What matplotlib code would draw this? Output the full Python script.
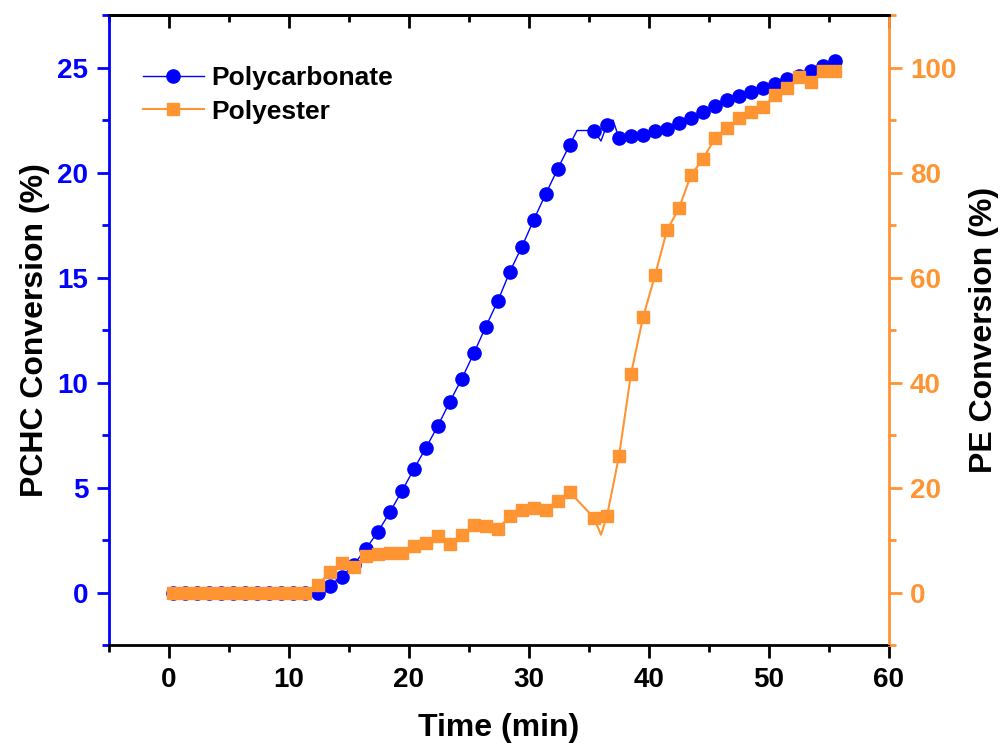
import numpy as np
import matplotlib.pyplot as plt
from matplotlib.ticker import MultipleLocator

# Time points that carry a marker (min)
time = [0.3, 1.3, 2.3, 3.3, 4.3, 5.3, 6.3, 7.3, 8.3, 9.3, 10.3, 11.3,
        12.4, 13.4, 14.4, 15.4, 16.4, 17.4, 18.4, 19.4, 20.4, 21.4, 22.4,
        23.4, 24.4, 25.4, 26.4, 27.4, 28.4, 29.4, 30.4, 31.4, 32.4, 33.4,
        35.4, 36.5, 37.5, 38.5, 39.5, 40.5, 41.5, 42.5, 43.5, 44.5, 45.5,
        46.5, 47.5, 48.5, 49.5, 50.5, 51.5, 52.5, 53.5, 54.5, 55.5]

# PCHC conversion (%) - polycarbonate
pchc = [0, 0, 0, 0, 0, 0, 0, 0, 0, 0, 0, 0,
        0.0, 0.33, 0.76, 1.32, 2.08, 2.88, 3.82, 4.82, 5.87, 6.88, 7.93,
        9.08, 10.18, 11.39, 12.66, 13.88, 15.27, 16.46, 17.75, 18.99, 20.18, 21.33,
        22.0, 22.28, 21.64, 21.76, 21.8, 21.96, 22.09, 22.36, 22.6, 22.9, 23.15,
        23.44, 23.63, 23.84, 24.03, 24.22, 24.43, 24.58, 24.82, 25.06, 25.3]

# PE conversion (%) - polyester
pe = [0, 0, 0, 0, 0, 0, 0, 0, 0, 0, 0, 0,
      1.34, 3.9, 5.66, 4.83, 6.93, 7.25, 7.5, 7.5, 8.78, 9.41, 10.75,
      9.29, 10.88, 12.79, 12.6, 12.15, 14.5, 15.78, 16.1, 15.65, 17.37, 19.14,
      14.25, 14.57, 26.0, 41.6, 52.4, 60.4, 69.0, 73.2, 79.5, 82.6, 86.5,
      88.4, 90.3, 91.6, 92.5, 94.7, 96.1, 98.2, 97.3, 99.4, 99.4]

# extra points on the lines that have no marker
pchc_extra_t = [34.0, 36.0, 37.0]
pchc_extra_v = [22.0, 21.5, 22.5]
pe_extra_t = [36.0]
pe_extra_v = [11.0]

blue = '#0000FF'
orange = '#FF9433'


def merged(t, v, t_extra, v_extra):
    t_all = np.concatenate([t, t_extra])
    v_all = np.concatenate([v, v_extra])
    order = np.argsort(t_all, kind='stable')
    marks = list(np.where(order < len(t))[0])
    return t_all[order], v_all[order], marks


plt.rcParams['font.family'] = 'Liberation Sans'
plt.rcParams['font.weight'] = 'bold'

fig = plt.figure(figsize=(10, 7.47), dpi=100)
ax = fig.add_axes([0.109, 0.1365, 0.78, 0.8434])
ax2 = ax.twinx()

t1, v1, m1 = merged(time, pchc, pchc_extra_t, pchc_extra_v)
t2, v2, m2 = merged(time, pe, pe_extra_t, pe_extra_v)

l1, = ax.plot(t1, v1, color=blue, lw=1.0, marker='o', ms=9.5,
              markevery=m1, mec=blue, label='Polycarbonate')
l2, = ax2.plot(t2, v2, color=orange, lw=1.5, marker='s', ms=8.5,
               markevery=m2, mec=orange, label='Polyester')

ax.set_xlim(-5, 60)
ax.set_ylim(-2.5, 27.5)
ax2.set_ylim(-10, 110)

ax.xaxis.set_major_locator(MultipleLocator(10))
ax.xaxis.set_minor_locator(MultipleLocator(5))
ax.yaxis.set_major_locator(MultipleLocator(5))
ax.yaxis.set_minor_locator(MultipleLocator(2.5))
ax2.yaxis.set_major_locator(MultipleLocator(20))
ax2.yaxis.set_minor_locator(MultipleLocator(10))

# spines
ax.spines['right'].set_visible(False)
ax2.spines['left'].set_visible(False)
ax.spines['left'].set_color(blue)
ax2.spines['right'].set_color(orange)
for sp in ['left', 'bottom', 'top']:
    ax.spines[sp].set_linewidth(2)
ax2.spines['right'].set_linewidth(2)
ax2.spines['top'].set_linewidth(2)

ax.tick_params(axis='x', which='both', direction='out', width=2,
               labelsize=20, pad=7, colors='black')
ax.tick_params(axis='x', which='major', length=9)
ax.tick_params(axis='x', which='minor', length=5)
ax.tick_params(axis='y', which='both', direction='out', width=2,
               labelsize=20, colors=blue, pad=6)
ax.tick_params(axis='y', which='major', length=9)
ax.tick_params(axis='y', which='minor', length=5)
ax2.tick_params(axis='y', which='both', direction='out', width=2,
                labelsize=20, colors=orange, pad=6)
ax2.tick_params(axis='y', which='major', length=9)
ax2.tick_params(axis='y', which='minor', length=5)

# top axis: inward ticks, no labels
top = ax.secondary_xaxis('top')
top.xaxis.set_major_locator(MultipleLocator(10))
top.xaxis.set_minor_locator(MultipleLocator(5))
top.tick_params(axis='x', which='both', direction='in', width=2, labeltop=False)
top.tick_params(axis='x', which='major', length=9)
top.tick_params(axis='x', which='minor', length=5)
top.spines['top'].set_linewidth(2)

ax.set_xlabel('Time (min)', fontsize=23, fontweight='bold', labelpad=14)
ax.set_ylabel('PCHC Conversion (%)', fontsize=23, fontweight='bold', labelpad=5)
ax2.set_ylabel('PE Conversion (%)', fontsize=23, fontweight='bold', labelpad=9)

fig.legend(handles=[l1, l2], loc='upper left', bbox_to_anchor=(0.143, 0.911),
           frameon=False, fontsize=19, handlelength=2.3, handletextpad=0.3,
           borderpad=0, borderaxespad=0, labelspacing=0.35)

fig.savefig('out.png', dpi=100)
